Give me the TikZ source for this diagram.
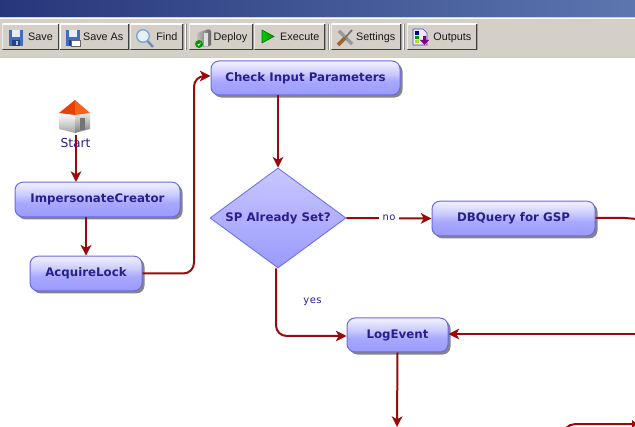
\documentclass[tikz,border=0pt]{standalone}
\usepackage{fontspec}
\setmainfont{Liberation Sans}
\newfontfamily\boldlab{DejaVu Sans Bold}
\newfontfamily\edgelab[LetterSpace=4]{DejaVu Sans}
\newfontfamily\startlab{DejaVu Sans}
\usetikzlibrary{arrows.meta,calc,shapes.geometric,shadows}
\definecolor{inktxt}{HTML}{2A1E8E}
\definecolor{flow}{HTML}{990A0A}
\definecolor{edgeblue}{HTML}{6A6AE6}
\definecolor{bar}{HTML}{D4D0C8}
\definecolor{titleL}{HTML}{26367A}
\definecolor{titleR}{HTML}{5C76B0}
\definecolor{c0}{HTML}{9A9AFC}
\definecolor{c1}{HTML}{A8A8FF}
\definecolor{c2}{HTML}{BDBDFF}
\definecolor{c3}{HTML}{C4C4FF}
\definecolor{c4}{HTML}{ECECFF}
\definecolor{c5}{HTML}{F0F0FF}
\definecolor{c6}{HTML}{C8C8FF}
\definecolor{floppyblue}{HTML}{3C6CC4}
\definecolor{slotblue}{HTML}{24407E}
\definecolor{labelwhite}{HTML}{E8ECF6}
\definecolor{lensrim}{HTML}{7FA8D8}
\definecolor{lensfill}{HTML}{E4F0FA}
\definecolor{lenshandle}{HTML}{6C8CB4}
\definecolor{roofred}{HTML}{E8400C}
\definecolor{roofora}{HTML}{F4641C}
\pgfdeclareverticalshading{glass}{100bp}{
 color(0bp)=(c0);color(25bp)=(c0);color(45bp)=(c1);color(53bp)=(c2);color(54bp)=(c3);color(72bp)=(c4);color(75bp)=(c5);color(100bp)=(c5)}
\pgfdeclareverticalshading{dmd}{100bp}{
 color(0bp)=(c0);color(25bp)=(c0);color(75bp)=(c6);color(100bp)=(c6)}
\newcommand\uptxt[1]{\raisebox{1.2pt}{#1}}
\tikzset{
 x=0.75pt,y=-0.75pt,
 task/.style={rectangle,rounded corners=6pt,draw=edgeblue,line width=.75pt,shading=glass,
   inner sep=0pt,text=inktxt,font=\boldlab\fontsize{8.85}{11}\selectfont,
   general shadow={fill=black!48,shadow xshift=1.9pt,shadow yshift=-1.9pt,rounded corners=6pt}},
 decide/.style={diamond,aspect=1.36,draw=edgeblue,line width=.6pt,shading=dmd,inner sep=0pt,
   text=inktxt,font=\boldlab\fontsize{8.85}{11}\selectfont},
 conn/.style={draw=flow,line width=1.5pt,rounded corners=8pt,-{Stealth[length=8pt,width=8pt,inset=2.2pt]}},
 plainconn/.style={draw=flow,line width=1.5pt,rounded corners=3pt},
 edgetxt/.style={text=inktxt,font=\edgelab\fontsize{7.5}{9}\selectfont,inner ysep=1.5pt,inner xsep=2.5pt,sharp corners},
 tbtn/.style={rectangle,fill=bar,inner sep=0pt,path picture={
   \draw[white,line width=1.1pt] (path picture bounding box.south west)--(path picture bounding box.north west)--(path picture bounding box.north east);
   \draw[black!75,line width=1.5pt] (path picture bounding box.south west)--(path picture bounding box.south east)--(path picture bounding box.north east);
 }},
 btxt/.style={inner sep=0pt,font=\fontsize{8.1}{10}\selectfont,text=black!90,anchor=base east},
 sepbar/.style={draw=white,line width=.6pt},
 sepbar2/.style={draw=black!45,line width=.6pt},
}
\newcommand\tbutton[4]{% name, left, right, text
 \node[tbtn,minimum width={(#3-#2)*.75pt},minimum height=19.5pt,anchor=west] (#1) at (#2,37) {};
 \node[btxt] (#1txt) at ($(#1.east)+(-6,4)$) {#4};}
\newcommand\floppy[1]{%
 \fill[floppyblue] (#1,30) rectangle +(14,16);
 \fill[labelwhite] (#1+3,30.5) rectangle +(8,6.5);
 \fill[slotblue] (#1+3,40) rectangle +(8,6);
 \fill[floppyblue!40!white] (#1+7,41) rectangle +(2,4);}
\begin{document}
\begin{tikzpicture}
\useasboundingbox (0,0) rectangle (635,427);
\clip (0,0) rectangle (635,427);
\fill[white] (0,0) rectangle (635,427);
% window chrome
\shade[left color=titleL,right color=titleR] (0,0) rectangle (635,17);
\fill[bar] (0,17) rectangle (635,57);
\draw[white,line width=.6pt] (0,18)--(635,18);
\draw[black!20,line width=.75pt] (0,57.5)--(635,57.5);
% toolbar
\tbutton{save}{2}{58.5}{Save}
\tbutton{saveas}{59.5}{129}{Save As}
\tbutton{find}{130}{183}{Find}
\tbutton{deploy}{189}{253}{Deploy}
\tbutton{exec}{254}{325}{Execute}
\tbutton{sett}{331}{401}{Settings}
\tbutton{outp}{407}{477}{Outputs}
\draw[sepbar] (185,24)--(185,50) (329,24)--(329,50) (403,24)--(403,50);
\draw[sepbar2] (186,24)--(186,50) (328,24)--(328,50) (404,24)--(404,50);
% icons
\floppy{9}
\floppy{66}
\fill[white,draw=black!60,line width=.4pt] (71,40) rectangle (80,46);
\draw[lenshandle,line width=1.8pt] (147.5,41)--(153,47);
\draw[lensrim,line width=1.1pt,fill=lensfill] (143,36) circle (6.3);
\shade[left color=black!25,right color=black!60,rounded corners=1pt] (197,33)--(209,29)--(211,30)--(211,46)--(198,47)--cycle;
\fill[black!12] (204,33) rectangle (208,46);
\fill[green!60!black] (199,44) circle (4);
\fill[white] (197.3,44)--(198.8,46)--(201.3,42)--(198.9,44.4)--cycle;
\shade[left color=green!80!black,right color=green!60!black,draw=green!40!black,line width=.4pt] (262,30)--(274,36.5)--(262,43)--cycle;
\draw[black!40,line width=2.4pt] (339,31)--(352,44);
\draw[black!55,line width=1.3pt] (352,30)--(345,38);
\draw[brown!80!black,line width=2.8pt] (345,38)--(338,45);
\fill[blue!8,draw=blue!45!gray,line width=.5pt] (413,29)--(423,29)--(427,33)--(427,45)--(413,45)--cycle;
\fill[blue!60!black] (415,31) rectangle (419,35);
\fill[green!60!black] (415,36) rectangle (419,39);
\fill[yellow!70!green] (415,40) rectangle (419,43);
\fill[violet] (423,36)--(426,36)--(426,40)--(429,40)--(424.5,45)--(420,40)--(423,40)--cycle;
% start icon
\shade[top color=white,bottom color=black!35] (59,113)--(75,115)--(75,133)--(59,129)--cycle;
\shade[top color=black!8,bottom color=black!50] (75,115)--(90,113)--(90,129)--(75,133)--cycle;
\fill[black!55] (80,118) rectangle (85,130);
\fill[roofred] (75,100)--(59,113)--(75,115)--cycle;
\fill[roofora] (75,100)--(90,113)--(75,115)--cycle;
\coordinate (starticon) at (75,133);
\node[text=inktxt,inner sep=0pt,font=\startlab\fontsize{9.2}{11}\selectfont] (start) at (75.5,143.5) {Start};
% nodes
\node[task,minimum width=123.75pt,minimum height=26pt] (imp) at (97.5,199.5) {\uptxt{ImpersonateCreator}};
\node[task,minimum width=84pt,minimum height=26pt] (acq) at (86,273.5) {\uptxt{AcquireLock}};
\node[task,minimum width=141.75pt,minimum height=25.5pt] (chk) at (305.5,78) {\uptxt{Check Input Parameters}};
\node[decide,minimum width=102pt,minimum height=75pt] (sp) at (278,218) {SP Already Set?};
\node[task,minimum width=122.25pt,minimum height=26pt] (db) at (513.5,218.5) {\uptxt{DBQuery for GSP}};
\node[task,minimum width=75.75pt,minimum height=25.5pt] (log) at (397.5,335) {\uptxt{LogEvent}};
\coordinate (rightin) at (635,334);
\coordinate (rightout) at (637,219);
\coordinate (bottomout) at (397,427);
\coordinate (rightlow) at (637,424);
\coordinate (lowstart) at (565,429);
% connectors
\draw[conn] ($(starticon)+(1,2)$) -- (76,182);
\draw[conn] ($(imp.south)+(-11.5,0)$) -- ($(acq.north)$);
\draw[conn] (acq.east) -- (194,273.5) -- (194,76) -- ($(chk.west)+(0,-2)$);
\draw[conn] (chk.south -| sp.north) -- (sp.north);
\draw[conn] (sp.east) -- (db.west) node[midway,fill=white,edgetxt,yshift=.5pt] (no) {no};
\draw[conn] ($(sp.south)+(-2,0)$) -- (276,336) -- (log.west |- 0,336);
\draw[conn] (rightin) -- ($(log.east)+(0,-1)$);
\draw[conn] (log.south) -- (bottomout);
\draw[draw=flow,line width=1.5pt] ($(db.east)+(0,-.5)$) -- (625,218) -- (rightout);
\draw[plainconn] (lowstart) -- (567,427) -- (572,424) -- (rightlow);
\fill[flow] (632,420) -- (637,424) -- (632,428) -- cycle;
\node[edgetxt] (yes) at (312.5,301.5) {yes};
\end{tikzpicture}
\end{document}
